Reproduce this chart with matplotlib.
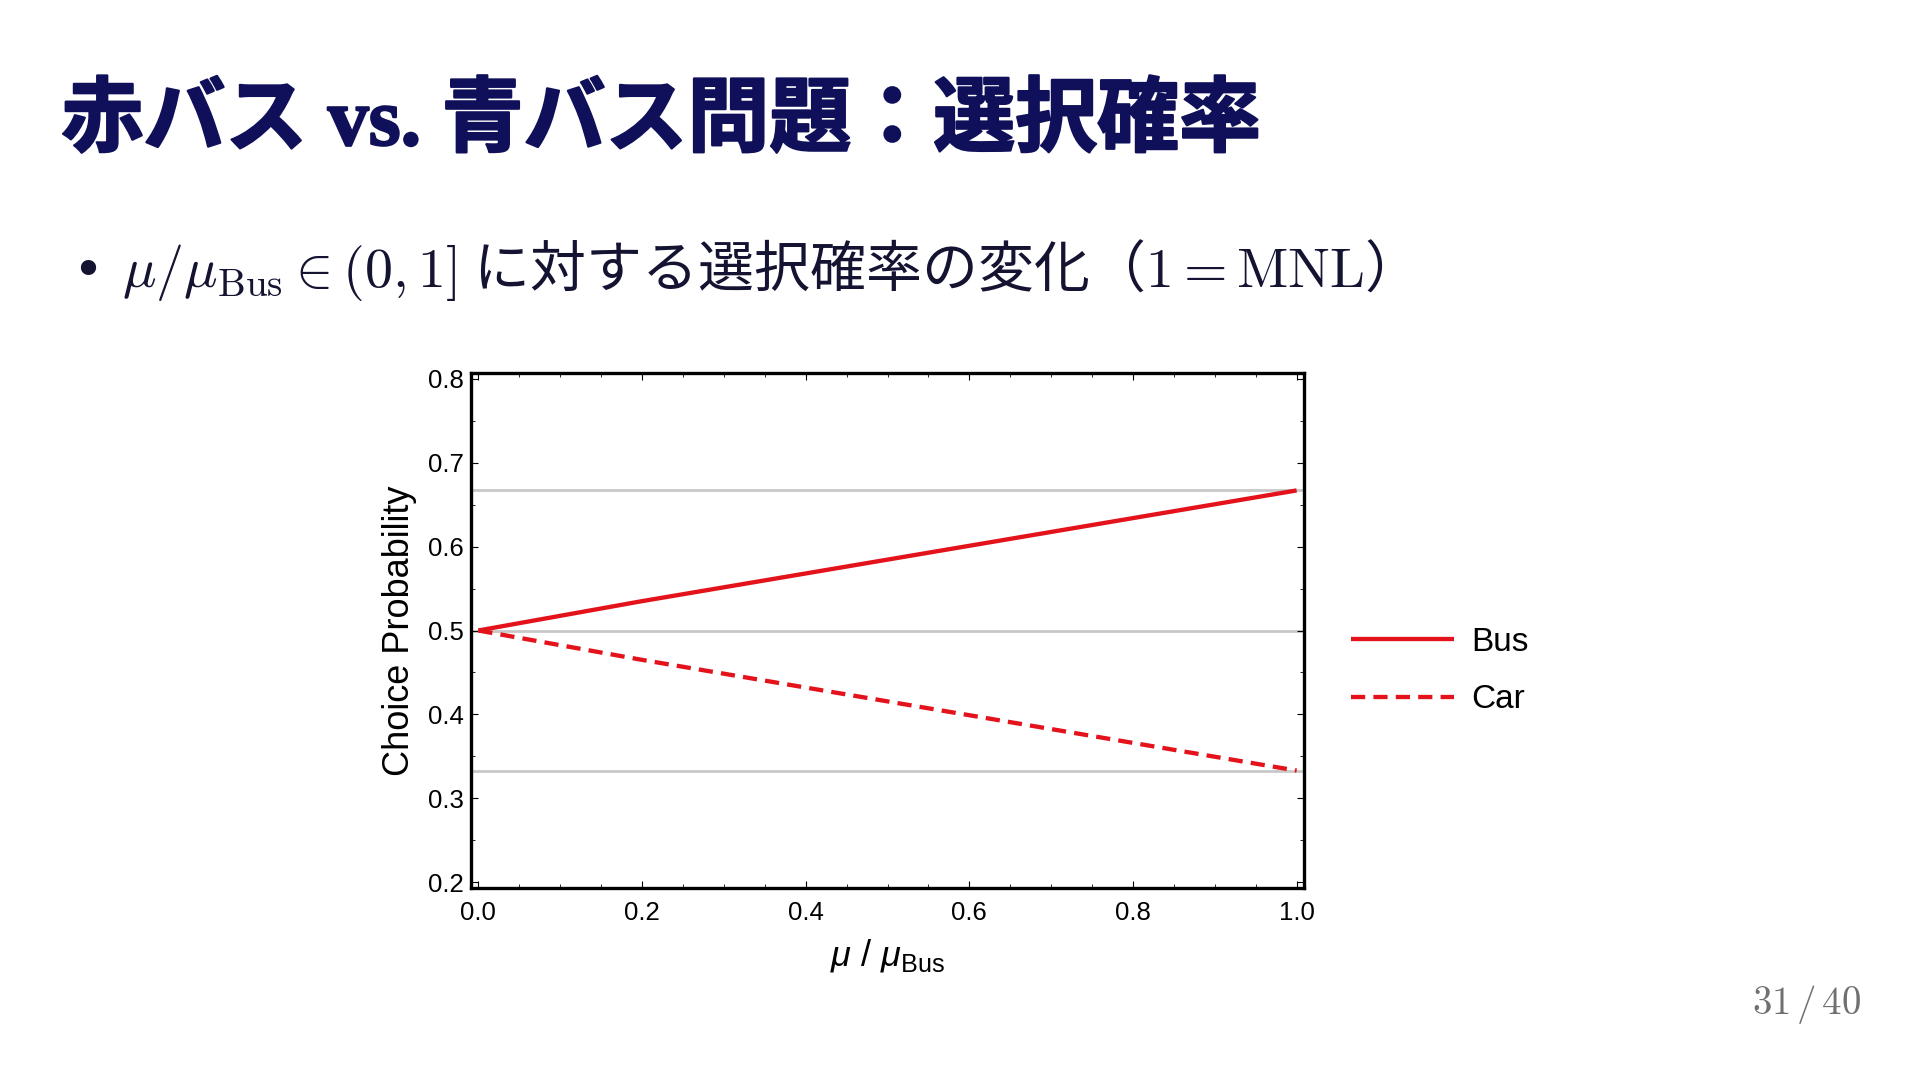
import numpy as np
import matplotlib
matplotlib.use("Agg")
import matplotlib.pyplot as plt
from matplotlib.ticker import MultipleLocator
import matplotlib.patheffects as pe

# ─────────────────────────────────────────────
# Dati (赤バス vs. 青バス)
# ─────────────────────────────────────────────
mu_ratio = [0.0, 0.2, 0.4, 0.6, 0.8, 1.0]
p_bus = [0.500, 0.535, 0.568, 0.601, 0.634, 0.667]
p_car = [0.500, 0.465, 0.432, 0.399, 0.366, 0.333]
ref_levels = [0.667, 0.500, 0.333]   # linee grigie di riferimento
series_labels = ["Bus", "Car"]

x_ticks = [0.0, 0.2, 0.4, 0.6, 0.8, 1.0]
y_ticks = [0.2, 0.3, 0.4, 0.5, 0.6, 0.7, 0.8]

TITLE = "赤バス vs. 青バス問題：選択確率"
SUBTITLE = r"$\mu/\mu_{\mathrm{Bus}} \in (0,1]$ に対する選択確率の変化（$1 = \mathrm{MNL}$）"
PAGE = r"$31\,/\,40$"

NAVY = "#10105a"
RED = "#e3121b"

plt.rcParams["font.family"] = ["Liberation Sans", "DejaVu Sans"]
plt.rcParams["mathtext.fontset"] = "custom"
plt.rcParams["mathtext.rm"] = "Liberation Sans"
plt.rcParams["mathtext.it"] = "Liberation Sans:italic"
plt.rcParams["mathtext.bf"] = "Liberation Sans:bold"

fig = plt.figure(figsize=(19.2, 10.8), dpi=100)
fig.patch.set_facecolor("white")

# titolo della slide
fig.text(0.032, 1 - 124 / 1080, TITLE, fontsize=59, weight="bold",
         family=["Liberation Serif", "Noto Sans CJK JP"], color=NAVY,
         ha="left", va="center",
         path_effects=[pe.withStroke(linewidth=1.6, foreground=NAVY)])

# bullet + sottotitolo
fig.text(88 / 1920, 1 - 272 / 1080, "•", fontsize=38, color="#141432",
         family=["DejaVu Sans"], ha="center", va="center")
fig.text(0.0635, 1 - 270 / 1080, SUBTITLE, fontsize=40.3, color="#141432",
         family=["Noto Sans CJK JP"], math_fontfamily="cm",
         ha="left", va="center")

# ─────────────────────────────────────────────
# Grafico principale
# ─────────────────────────────────────────────
ax = fig.add_axes([471 / 1920, 1 - 888 / 1080, (1304 - 471) / 1920, (888 - 373) / 1080])

for lv in ref_levels:
    ax.axhline(lv, color="#c8c8c8", lw=2.0, zorder=1)

ax.plot(mu_ratio, p_bus, color=RED, lw=3.1, solid_capstyle="butt",
        label=series_labels[0], zorder=3)
ax.plot(mu_ratio, p_car, color=RED, lw=3.1, linestyle=(0, (3.3, 1.9)),
        label=series_labels[1], zorder=3)

ax.set_xlim(-0.009, 1.009)
ax.set_ylim(0.193, 0.807)
ax.set_xticks(x_ticks)
ax.set_yticks(y_ticks)
ax.xaxis.set_minor_locator(MultipleLocator(0.05))
ax.yaxis.set_minor_locator(MultipleLocator(0.05))
ax.set_xticklabels([f"{v:.1f}" for v in x_ticks])
ax.set_yticklabels([f"{v:.1f}" for v in y_ticks])

ax.tick_params(which="both", direction="in", top=True, right=True,
               labelsize=18.5, pad=5, colors="black")
ax.tick_params(which="major", length=5, width=0.8)
ax.tick_params(which="minor", length=3, width=0.6)
ax.tick_params(axis="x", pad=9)

for sp in ax.spines.values():
    sp.set_linewidth(2.4)
    sp.set_color("black")

ax.set_ylabel("Choice Probability", fontsize=26, labelpad=8)
ax.set_xlabel(r"$\mu$ / $\mu_{\mathrm{Bus}}$", fontsize=26, labelpad=9)

# legenda a destra
fig.legend(loc="center left", bbox_to_anchor=(1351 / 1920, 1 - 671 / 1080),
           bbox_transform=fig.transFigure, frameon=False, fontsize=24,
           handlelength=3.1, handletextpad=0.5, labelspacing=0.8,
           borderpad=0, borderaxespad=0)

# numero di pagina
fig.text(1861 / 1920, 1 - 1005 / 1080, PAGE, fontsize=28, color="#707070",
         math_fontfamily="cm", ha="right", va="center")

fig.savefig("out.png", dpi=100, facecolor="white")
